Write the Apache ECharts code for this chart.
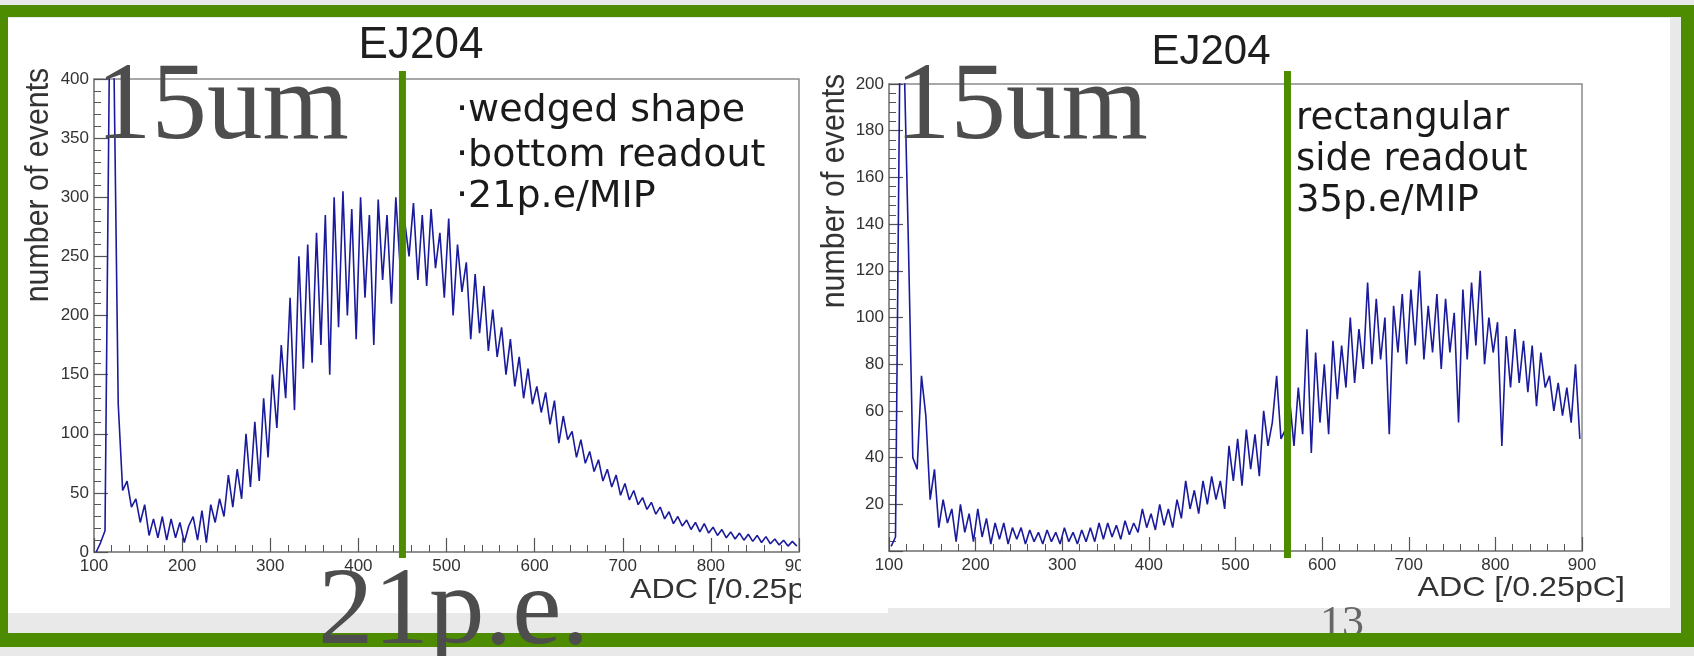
<!DOCTYPE html>
<html><head><meta charset="utf-8">
<script src="https://cdn.jsdelivr.net/npm/echarts@6/dist/echarts.min.js"></script>
<style>html,body{margin:0;padding:0;background:#fff}#c{width:1694px;height:656px}</style>
</head><body><div id="c"></div>
<script>
// ---- data (ADC bins of 5 units starting at 100) ----
const BIN_START = 100, BIN_WIDTH = 5;
const leftCounts = [
 0,8,18,420,420,125,52,60,38,45, 25,40,14,28,12,30,10,28,12,25,
 8,22,30,10,35,8,40,25,45,30, 65,38,70,45,100,55,110,60,130,80,
 150,105,175,130,215,120,250,155,260,160, 270,175,285,150,300,190,305,200,290,180,
 300,215,285,175,298,230,285,210,300,240, 280,250,295,230,285,225,290,240,270,215,
 282,200,260,220,245,180,235,185,225,170, 205,165,190,150,180,140,165,130,155,125,
 140,118,135,108,128,92,115,95,102,80, 95,75,85,68,78,60,70,55,65,48,
 58,44,52,40,46,36,42,32,38,28, 34,24,30,22,27,19,25,17,24,16,
 21,14,19,12,17,11,16,10,15,9, 14,8,13,7,11,6,10,5,9,5
];
const rightCounts = [
 2,6,210,210,130,40,35,75,58,22, 35,10,22,12,18,4,20,8,16,4,
 18,6,14,3,12,5,12,3,10,5, 10,3,9,4,8,3,9,4,8,3,
 10,4,8,3,9,4,10,4,12,5, 12,6,11,5,13,7,12,8,18,10,
 16,9,20,11,18,10,22,14,30,18, 26,16,30,20,32,22,30,18,45,30,
 48,28,52,35,50,32,60,45,55,75, 48,52,65,45,70,50,95,42,85,55,
 80,50,90,65,88,70,100,72,95,78, 115,80,108,82,100,50,105,85,110,80,
 112,88,120,82,105,85,110,78,108,85, 102,55,112,82,115,88,120,80,100,85,
 98,45,92,70,95,72,90,68,88,62, 85,70,75,60,72,58,70,55,80,48
];
const xTicks = [100, 900, 100];        // min, max, step of ADC axis
const leftYTicks = [0, 400, 50];
const rightYTicks = [0, 200, 20];
const markerADC = [450, 560];          // green marker positions (left, right)
const titles = ['EJ204', 'EJ204'];
const leftNotes = ['·wedged shape', '·bottom readout', '·21p.e/MIP'];
const rightNotes = ['rectangular', 'side readout', '35p.e/MIP'];
const bigLabels = ['15um', '15um', '21p.e.'];
const yTitle = 'number of events';
const xTitle = 'ADC [/0.25pC]';
const pageNo = '13';

const toXY = arr => arr.map((v, i) => [BIN_START + BIN_WIDTH * (i + 0.5), v]);

const chart = echarts.init(document.getElementById('c'), null, {renderer: 'canvas'});
const FRAME = '#8a8a8a', TICK = '#555', HIST = '#1a1a9c', GREEN = '#4d8c00';

function xAxisCfg(g) {
  return {
    gridIndex: g, type: 'value', min: xTicks[0], max: xTicks[1], interval: xTicks[2],
    axisLine: {show: true, onZero: false, lineStyle: {color: FRAME, width: 1.5}},
    axisTick: {show: true, inside: true, length: 14, lineStyle: {color: TICK, width: 1.2}},
    minorTick: {show: true, splitNumber: 5, length: 7, lineStyle: {color: TICK, width: 1}},
    axisLabel: {fontSize: 17, color: '#333', margin: 6, fontFamily: 'Liberation Sans'},
    splitLine: {show: false}, minorSplitLine: {show: false}
  };
}
function yAxisCfg(g, t, hideZero) {
  return {
    gridIndex: g, type: 'value', min: t[0], max: t[1], interval: t[2],
    axisLine: {show: true, onZero: false, lineStyle: {color: FRAME, width: 1.5}},
    axisTick: {show: true, inside: true, length: 14, lineStyle: {color: TICK, width: 1.2}},
    minorTick: {show: true, splitNumber: 5, length: 7, lineStyle: {color: TICK, width: 1}},
    axisLabel: {fontSize: 17, color: '#333', margin: 5, fontFamily: 'Liberation Sans',
      formatter: v => (hideZero && v === 0) ? '' : String(v)},
    splitLine: {show: false}, minorSplitLine: {show: false}
  };
}
function histSeries(g, data) {
  return {
    type: 'line', xAxisIndex: g, yAxisIndex: g, data: data,
    symbol: 'none', silent: true, clip: true,
    lineStyle: {color: HIST, width: 1.6}, z: 3
  };
}

chart.setOption({
  animation: false,
  backgroundColor: '#ffffff',
  grid: [
    {left: 94, top: 79, width: 705, height: 473, show: true, borderColor: FRAME, borderWidth: 1.5,
     backgroundColor: 'transparent', outerBoundsMode: 'none', containLabel: false},
    {left: 889, top: 84, width: 693, height: 467, show: true, borderColor: FRAME, borderWidth: 1.5,
     backgroundColor: 'transparent', outerBoundsMode: 'none', containLabel: false}
  ],
  xAxis: [xAxisCfg(0), xAxisCfg(1)],
  yAxis: [yAxisCfg(0, leftYTicks, false), yAxisCfg(1, rightYTicks, true)],
  series: [histSeries(0, toXY(leftCounts)), histSeries(1, toXY(rightCounts))]
});

const lx = chart.convertToPixel({gridIndex: 0}, [markerADC[0], 0])[0];
const rx = chart.convertToPixel({gridIndex: 1}, [markerADC[1], 0])[0];

const serif = 'Liberation Serif, Times New Roman, serif';
const sans = 'Liberation Sans, Arial, sans-serif';
const deja = 'DejaVu Sans, sans-serif';
function txt(text, x, y, size, family, fill, align, extra) {
  return Object.assign({
    type: 'text', x: x, y: y, z: 40, silent: true,
    style: {text: text, fontSize: size, fontFamily: family, fill: fill,
            textAlign: align || 'left', textVerticalAlign: 'middle'}
  }, extra || {});
}

const g = [];
// slide background pieces
g.push({type: 'rect', z: 1, shape: {x: 0, y: 608, width: 1694, height: 48}, style: {fill: '#e9e9e9'}, silent: true});
g.push({type: 'rect', z: 1, shape: {x: 1670, y: 0, width: 24, height: 656}, style: {fill: '#e9e9e9'}, silent: true});
g.push({type: 'rect', z: 1, shape: {x: 0, y: 0, width: 1694, height: 18}, style: {fill: '#e9e9e9'}, silent: true});
g.push({type: 'rect', z: 2, shape: {x: 8, y: 600, width: 880, height: 13}, style: {fill: '#ffffff'}, silent: true});
g.push(txt(pageNo, 1320, 624, 44, serif, '#666', 'left', {z: 2}));
// green border
const gb = [[0, 5, 1694, 12], [0, 5, 8, 642], [0, 633, 1694, 14], [1681, 5, 13, 642]];
gb.forEach(r => g.push({type: 'rect', z: 5, shape: {x: r[0], y: r[1], width: r[2], height: r[3]}, style: {fill: GREEN}, silent: true}));
// titles
g.push(txt(titles[0], 421, 46, 44, sans, '#1e1e1e', 'center'));
g.push(txt(titles[1], 1211, 52, 42, sans, '#1e1e1e', 'center'));
// notes
leftNotes.forEach((t, i) => g.push(txt(t, 456, [111, 156, 197][i], 38, deja, '#1a1a1a')));
rightNotes.forEach((t, i) => g.push(txt(t, 1296, [119, 160, 201][i], 37, deja, '#1a1a1a')));
// axis titles
g.push(txt(yTitle, 39, 185, 33, sans, '#333', 'center', {rotation: Math.PI / 2, scaleX: 0.92}));
g.push(txt(yTitle, 835, 191, 33, sans, '#333', 'center', {rotation: Math.PI / 2, scaleX: 0.92}));
g.push(txt(xTitle, 630, 590, 28, sans, '#333', 'left', {scaleX: 1.15}));
g.push(txt(xTitle, 1625, 588, 28, sans, '#333', 'right', {scaleX: 1.15}));
// cover: left picture is cut at its right edge
g.push({type: 'rect', z: 45, shape: {x: 801, y: 554, width: 68, height: 58}, style: {fill: '#ffffff'}, silent: true});
// green markers
g.push({type: 'line', z: 60, shape: {x1: lx, y1: 71, x2: lx, y2: 558}, style: {stroke: GREEN, lineWidth: 7}, silent: true});
g.push({type: 'line', z: 60, shape: {x1: rx, y1: 71, x2: rx, y2: 558}, style: {stroke: GREEN, lineWidth: 7}, silent: true});
// big serif labels
g.push(txt(bigLabels[0], 96, 109, 111, serif, '#4d4d4d', 'left', {z: 70}));
g.push(txt(bigLabels[1], 895, 109, 111, serif, '#4d4d4d', 'left', {z: 70}));
g.push(txt(bigLabels[2], 318, 614, 111, serif, '#4d4d4d', 'left', {z: 70}));

chart.setOption({graphic: {elements: g}});
</script>
</body></html>
